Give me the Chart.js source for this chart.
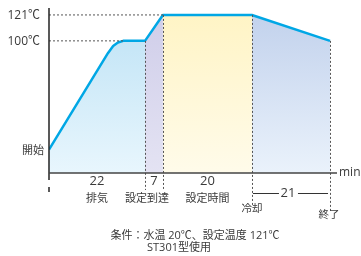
<!DOCTYPE html>
<html>
<head>
<meta charset="utf-8">
<script src="https://cdn.jsdelivr.net/npm/chart.js@4"></script>
<style>
  html, body { margin: 0; padding: 0; background: #fff; }
  canvas { display: block; }
</style>
</head>
<body>
<canvas id="sterilizeChart" width="361" height="256"></canvas>
<script>
// temperature profile (x in schematic time units as drawn, y in ℃ as drawn)
const profileX = [0, 13.5, 14.7, 15.8, 17, 22, 26.1, 46.5, 64.4];
const profileY = [12, 90, 95.9, 98.7, 100, 100, 121, 121, 100];

// phases
const phaseNames = ["排気", "設定到達", "設定時間", "冷却"];
const phaseMinutes = [22, 7, 20, 21];
const phaseEndIdx = [5, 6, 7, 8]; // index in profile where each phase ends
const endLabel = "終了";

// y axis labels
const yTickValues = [121, 100, 12];
const yTickLabels = ["121℃", "100℃", "開始"];

const noteLines = ["条件：水温 20℃、設定温度 121℃", "ST301型使用"];
const unitLabel = "min";

const FONT = "'Open Sans', 'Noto Sans CJK JP', sans-serif";
const TEXT = "#3a3a3a";
const LINE_BLUE = "#00a7e5";

// gradients for each phase: [top, bottom]
const phaseFills = [
    ["#bde2f5", "#e8f6fd"],
    ["#cfcde9", "#e4e3f3"],
    ["#fff4c4", "#fffbea"],
    ["#c1d1ec", "#eaf2fb"],
];

function gradientFor(colors) {
    return (context) => {
        const chart = context.chart;
        const area = chart.chartArea;
        if (!area) return colors[0];
        const g = chart.ctx.createLinearGradient(0, area.top, 0, area.bottom);
        g.addColorStop(0, colors[0]);
        g.addColorStop(1, colors[1]);
        return g;
    };
}

const points = profileX.map((x, i) => ({ x: x, y: profileY[i] }));

const fillSets = phaseEndIdx.map((end, i) => {
    const start = i === 0 ? 0 : phaseEndIdx[i - 1];
    return {
        data: points.slice(start, end + 1),
        fill: "start",
        backgroundColor: gradientFor(phaseFills[i]),
        borderWidth: 0,
        pointRadius: 0,
        order: 2,
    };
});

const overlay = {
    id: "overlay",
    afterDatasetsDraw(chart) {
        const { ctx, scales: { x, y } } = chart;
        const px = (v) => x.getPixelForValue(v);
        const py = (v) => y.getPixelForValue(v);
        const axisY = py(y.min);
        const axisX = px(0);

        function seg(x1, y1, x2, y2) {
            ctx.beginPath();
            ctx.moveTo(x1, y1);
            ctx.lineTo(x2, y2);
            ctx.stroke();
        }

        ctx.save();

        // dotted guide lines
        ctx.strokeStyle = "#555";
        ctx.lineWidth = 1;
        ctx.setLineDash([2, 2]);
        seg(axisX, py(121), px(profileX[phaseEndIdx[1]]), py(121));
        seg(axisX, py(100), px(profileX[4]), py(100));
        const drops = [17, 17, 32, 39];
        phaseEndIdx.forEach((idx, i) => {
            const gx = Math.round(px(profileX[idx])) + 0.5;
            seg(gx, py(profileY[idx]), gx, axisY + drops[i]);
        });
        ctx.setLineDash([]);

        // axes
        ctx.strokeStyle = "#222";
        ctx.lineWidth = 1.5;
        seg(axisX, 8, axisX, axisY + 7);
        seg(axisX, axisY + 14, axisX, axisY + 19);
        ctx.strokeStyle = "#444";
        seg(axisX, axisY, x.right, axisY);

        // y labels
        ctx.fillStyle = TEXT;
        ctx.textBaseline = "middle";
        ctx.textAlign = "right";
        yTickValues.forEach((v, i) => {
            const isWord = !yTickLabels[i].includes("℃");
            ctx.font = (isWord ? "11px " : "12px ") + FONT;
            ctx.fillText(yTickLabels[i], isWord ? 44 : 40, py(v) + 1);
        });

        // unit
        ctx.textAlign = "left";
        ctx.font = "12px " + FONT;
        ctx.fillText(unitLabel, x.right + 2, axisY);

        // phase minutes and names
        ctx.textAlign = "center";
        phaseEndIdx.forEach((end, i) => {
            const start = i === 0 ? 0 : phaseEndIdx[i - 1];
            const mid = (px(profileX[start]) + px(profileX[end])) / 2;
            if (i < 3) {
                ctx.font = "13px " + FONT;
                ctx.fillText(String(phaseMinutes[i]), mid, axisY + 8);
                ctx.font = "11px " + FONT;
                const nudge = i === 1 ? -7 : 0;
                ctx.fillText(phaseNames[i], mid + nudge, axisY + 26);
            } else {
                const x1 = px(profileX[start]);
                const x2 = px(profileX[end]);
                ctx.font = "13px " + FONT;
                ctx.fillText(String(phaseMinutes[i]), mid - 3, axisY + 20);
                ctx.strokeStyle = "#333";
                ctx.lineWidth = 1;
                seg(x1 + 1, axisY + 20.5, mid - 12, axisY + 20.5);
                seg(mid + 7, axisY + 20.5, x2 - 2, axisY + 20.5);
                ctx.font = "10.5px " + FONT;
                ctx.fillText(phaseNames[i], x1, axisY + 36);
                ctx.fillText(endLabel, x2 - 1, axisY + 42);
            }
        });

        // note
        ctx.font = "11px " + FONT;
        ctx.fillText(noteLines[0], 195, 236);
        ctx.textAlign = "left";
        ctx.fillText(noteLines[1], 147, 248);

        ctx.restore();
    },
};

new Chart(document.getElementById("sterilizeChart"), {
    type: "line",
    data: {
        datasets: [
            {
                data: points,
                borderColor: LINE_BLUE,
                borderWidth: 2.5,
                borderJoinStyle: "round",
                fill: false,
                pointRadius: 0,
                tension: 0,
                order: 1,
            },
            ...fillSets,
        ],
    },
    options: {
        responsive: false,
        animation: false,
        devicePixelRatio: 1,
        layout: { padding: { left: 49, right: 24, top: 10, bottom: 83 } },
        plugins: { legend: { display: false }, tooltip: { enabled: false } },
        scales: {
            x: { type: "linear", min: 0, max: 66, display: false },
            y: { type: "linear", min: -7, max: 125, display: false },
        },
    },
    plugins: [overlay],
});
</script>
</body>
</html>
